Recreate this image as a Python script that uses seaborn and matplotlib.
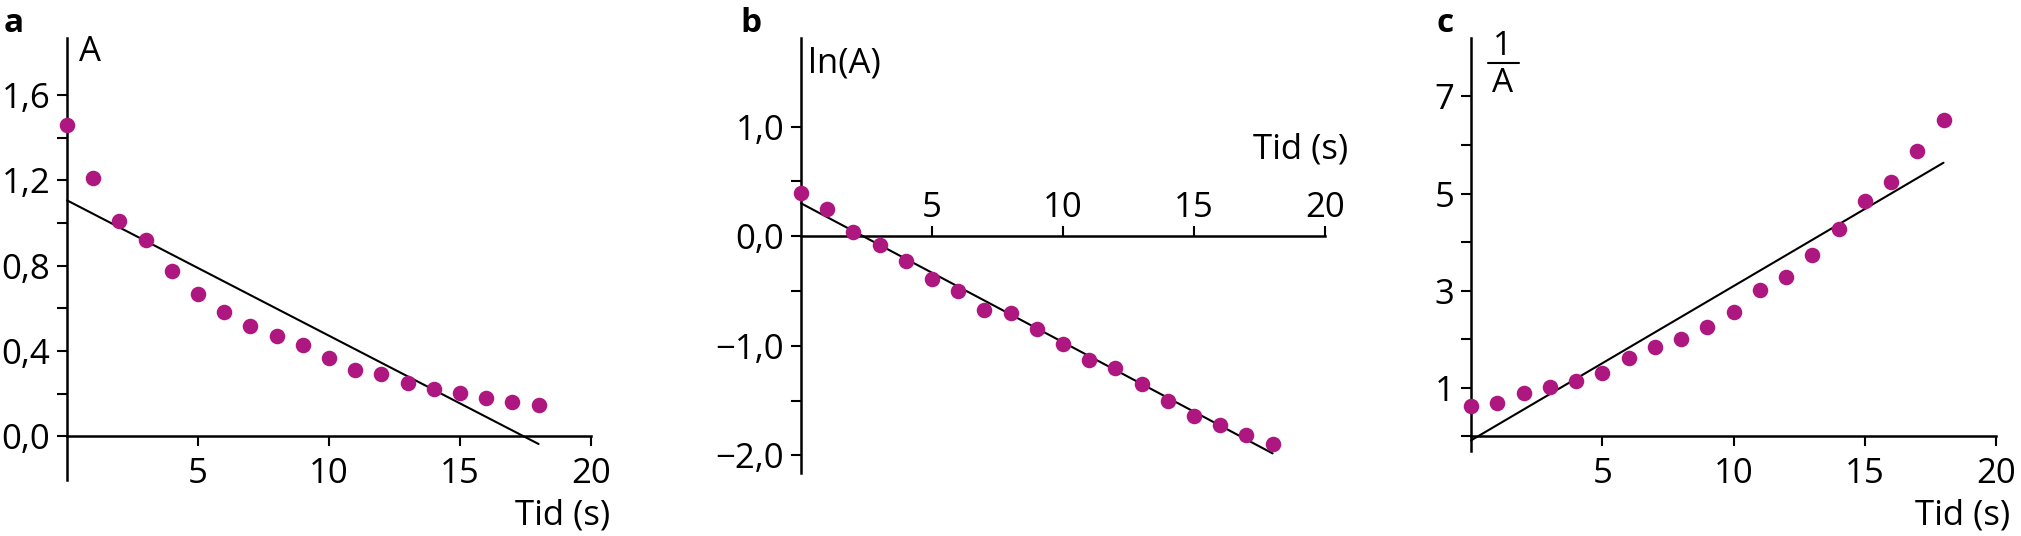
import matplotlib.pyplot as plt
import pandas as pd
import seaborn as sns
from matplotlib.ticker import FixedLocator
from matplotlib.lines import Line2D

# values (t = 0..18 s)
tid = list(range(19))
amp = [1.46, 1.21, 1.01, 0.92, 0.774, 0.669, 0.584, 0.515, 0.472, 0.427,
       0.366, 0.312, 0.29, 0.247, 0.219, 0.203, 0.177, 0.161, 0.145]
ln_amp = [0.394, 0.247, 0.037, -0.082, -0.222, -0.394, -0.503, -0.669, -0.70,
          -0.847, -0.98, -1.132, -1.203, -1.35, -1.503, -1.637, -1.725, -1.81, -1.893]
inv_amp = [0.63, 0.69, 0.90, 1.01, 1.13, 1.31, 1.62, 1.85, 2.01, 2.25,
           2.56, 3.01, 3.29, 3.73, 4.28, 4.85, 5.24, 5.87, 6.51]

x_ticks = [5, 10, 15, 20]
x_labels = ['5', '10', '15', '20']
a_ticks = [0.0, 0.4, 0.8, 1.2, 1.6]
a_labels = ['0,0', '0,4', '0,8', '1,2', '1,6']
a_minor = [0.2, 0.6, 1.0, 1.4]
b_ticks = [-2.0, -1.0, 0.0, 1.0]
b_labels = ['\u22122,0', '\u22121,0', '0,0', '1,0']
b_minor = [-1.5, -0.5, 0.5]
c_ticks = [1, 3, 5, 7]
c_labels = ['1', '3', '5', '7']
c_minor = [0, 2, 4, 6]

PURPLE = '#AE1680'
W, H = 2021, 536
FS = 25

sns.set_theme(style='ticks')
plt.rcParams['font.family'] = ['Open Sans', 'DejaVu Sans']

df = pd.DataFrame({'tid': tid, 'A': amp, 'lnA': ln_amp, 'invA': inv_amp})

fig = plt.figure(figsize=(W / 100, H / 100), dpi=100)


def px_axes(left, right, top, bottom):
    return fig.add_axes([left / W, 1 - bottom / H, (right - left) / W, (bottom - top) / H])


def draw_panel(ax, col, ylim, yticks, ylabels, yminor, top_labels=False):
    sns.regplot(data=df, x='tid', y=col, ax=ax, ci=None, truncate=True,
                scatter_kws=dict(s=125, color=PURPLE, linewidths=0, alpha=1,
                                 clip_on=False, zorder=3),
                line_kws=dict(color='black', lw=1.5, clip_on=False, zorder=2))
    ax.set_xlim(0, 20)
    ax.set_ylim(*ylim)
    ax.set_xlabel('')
    ax.set_ylabel('')
    ax.set_facecolor('none')
    ax.spines['right'].set_visible(False)
    if top_labels:
        ax.spines['bottom'].set_visible(False)
        ax.spines['top'].set_position(('data', 0))
        ax.xaxis.tick_top()
        xspine = ax.spines['top']
    else:
        ax.spines['top'].set_visible(False)
        ax.spines['bottom'].set_position(('data', 0))
        xspine = ax.spines['bottom']
    xspine.set_bounds(0, 20)
    for sp in (xspine, ax.spines['left']):
        sp.set_linewidth(1.8)
        sp.set_color('black')
    ax.set_xticks(x_ticks)
    ax.set_xticklabels(x_labels)
    ax.set_yticks(yticks)
    ax.set_yticklabels(ylabels)
    ax.yaxis.set_minor_locator(FixedLocator(yminor))
    ax.tick_params(which='both', direction='out', length=7, width=1.5,
                   color='black', labelcolor='black', labelsize=FS)
    ax.tick_params(axis='y', pad=5)
    ax.tick_params(axis='x', pad=1 if top_labels else 8)


ax_a = px_axes(67, 591, 37.7, 480)
draw_panel(ax_a, 'A', (-0.206, 1.87), a_ticks, a_labels, a_minor)

ax_b = px_axes(801, 1325, 37.7, 473)
draw_panel(ax_b, 'lnA', (-2.16, 1.81), b_ticks, b_labels, b_minor, top_labels=True)

ax_c = px_axes(1471, 1996, 37.7, 451.4)
draw_panel(ax_c, 'invA', (-0.31, 8.21), c_ticks, c_labels, c_minor)


def ftext(x, y, s, **kw):
    kw.setdefault('fontsize', FS)
    kw.setdefault('va', 'baseline')
    fig.text(x / W, 1 - y / H, s, color='black', **kw)


# panel letters
ftext(4, 32, 'a', fontweight='bold', ha='left', fontsize=24)
ftext(740, 32, 'b', fontweight='bold', ha='left', fontsize=24)
ftext(1437, 32, 'c', fontweight='bold', ha='left', fontsize=24)

# y-axis labels
ftext(79, 61, 'A', ha='left')
ftext(808, 73, 'ln(A)', ha='left')
ftext(1503, 55, '1', ha='center', fontsize=FS - 1)
ftext(1503, 92, 'A', ha='center', fontsize=FS - 1)
fig.add_artist(Line2D([1488 / W, 1519 / W], [1 - 63 / H, 1 - 63 / H],
                      color='black', lw=1.5))

# x-axis labels
ftext(610, 525, 'Tid (s)', ha='right')
ftext(1348, 158, 'Tid (s)', ha='right')
ftext(2010, 525, 'Tid (s)', ha='right')

fig.savefig('out.png', dpi=100)
